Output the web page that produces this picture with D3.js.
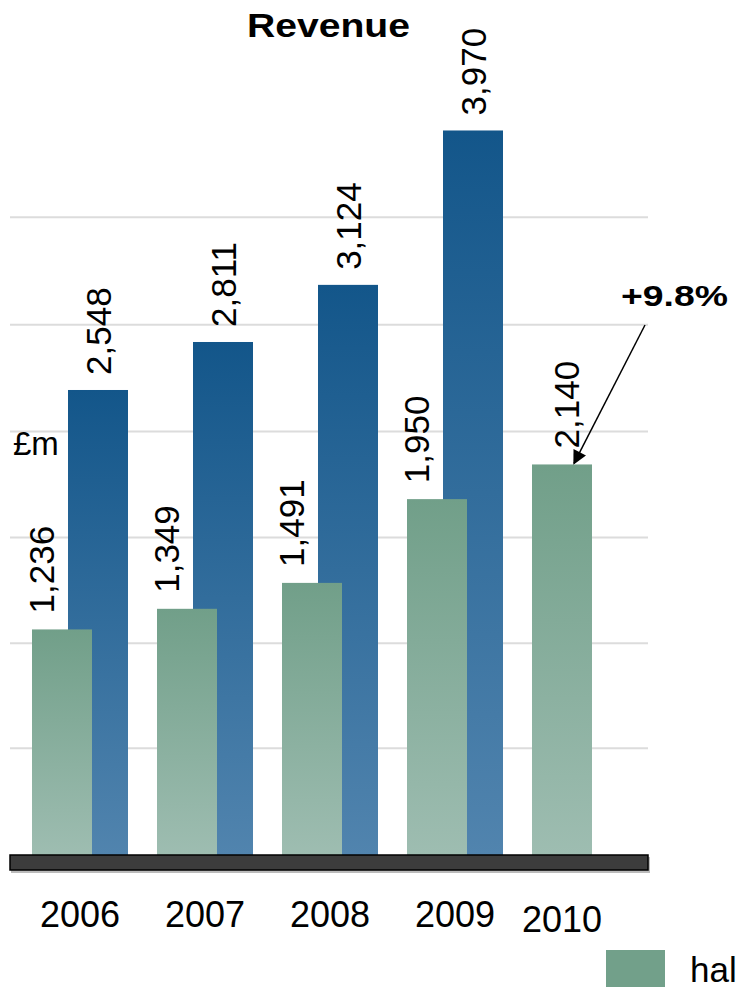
<!DOCTYPE html>
<html>
<head>
<meta charset="utf-8">
<script src="https://cdn.jsdelivr.net/npm/d3@7"></script>
<style>
  body { margin: 0; background: #fff; overflow: hidden; }
  svg { display: block; font-family: 'Liberation Sans', Arial, sans-serif; }
</style>
</head>
<body>
<svg id="chart" width="736" height="987"></svg>
<script>
const years = ['2006', '2007', '2008', '2009', '2010']
const halfYear = [1236, 1349, 1491, 1950, 2140]
const fullYear = [2548, 2811, 3124, 3970, null]
const gridValues = [585, 1160, 1740, 2320, 2905, 3495]
const growthLabel = '+9.8%'

const svg = d3.select('#chart')
const base = 855

const x = d3.scaleBand()
  .domain(years)
  .range([32, 632])
  .paddingInner(0.2)
  .paddingOuter(0)

const y = d3.scaleLinear()
  .domain([0, 4000])
  .range([base, 125])

const barW = x.bandwidth() * 0.6
const blueOffset = x.bandwidth() * 0.36
const fmt = d3.format(',')

const defs = svg.append('defs')
const blueGrad = defs.append('linearGradient')
  .attr('id', 'blueGrad').attr('x1', 0).attr('y1', 0).attr('x2', 0).attr('y2', 1)
blueGrad.append('stop').attr('offset', '0%').attr('stop-color', '#13568a')
blueGrad.append('stop').attr('offset', '100%').attr('stop-color', '#5184ae')
const greenGrad = defs.append('linearGradient')
  .attr('id', 'greenGrad').attr('x1', 0).attr('y1', 0).attr('x2', 0).attr('y2', 1)
greenGrad.append('stop').attr('offset', '0%').attr('stop-color', '#719f89')
greenGrad.append('stop').attr('offset', '100%').attr('stop-color', '#9ebdb1')
defs.append('marker')
  .attr('id', 'arrow')
  .attr('viewBox', '0 0 10 10')
  .attr('refX', 9).attr('refY', 5)
  .attr('markerWidth', 16).attr('markerHeight', 14)
  .attr('markerUnits', 'userSpaceOnUse')
  .attr('orient', 'auto')
  .append('path')
    .attr('d', 'M0,0 L10,5 L0,10 z')
    .attr('fill', '#000')

// gridlines
svg.append('g')
  .selectAll('line')
  .data(gridValues)
  .join('line')
    .attr('x1', 10).attr('x2', 648)
    .attr('y1', d => y(d)).attr('y2', d => y(d))
    .attr('stroke', '#dcdcdc')
    .attr('stroke-width', 2)

// full year bars (behind)
const fullData = years.map((yr, i) => ({ year: yr, v: fullYear[i] })).filter(d => d.v !== null)
svg.append('g')
  .selectAll('rect')
  .data(fullData)
  .join('rect')
    .attr('x', d => x(d.year) + blueOffset)
    .attr('y', d => y(d.v))
    .attr('width', barW)
    .attr('height', d => base - y(d.v))
    .attr('fill', 'url(#blueGrad)')

// half year bars (front)
const halfData = years.map((yr, i) => ({ year: yr, v: halfYear[i], paired: fullYear[i] !== null }))
svg.append('g')
  .selectAll('rect')
  .data(halfData)
  .join('rect')
    .attr('x', d => x(d.year))
    .attr('y', d => y(d.v))
    .attr('width', barW)
    .attr('height', d => base - y(d.v))
    .attr('fill', 'url(#greenGrad)')

// value labels, rotated; half-year labels shift left when a full-year bar sits beside them
const addLabels = (data, cx, gap) => {
  svg.append('g')
    .selectAll('text')
    .data(data)
    .join('text')
      .attr('transform', d => `translate(${cx(d)},${y(d.v) - gap}) rotate(-90)`)
      .attr('dy', '0.36em')
      .attr('font-size', 35)
      .attr('fill', '#000')
      .text(d => fmt(d.v))
}
addLabels(fullData, d => x(d.year) + blueOffset + barW / 2, 15)
addLabels(halfData, d => x(d.year) + (d.paired ? 9 : barW / 2 + 4), 16)

// baseline slab
svg.append('rect')
  .attr('x', 11).attr('y', base + 2)
  .attr('width', 639).attr('height', 16)
  .attr('fill', '#bbb')
svg.append('rect')
  .attr('x', 10).attr('y', base)
  .attr('width', 638).attr('height', 15)
  .attr('fill', '#3c3c3c')
  .attr('stroke', '#000')
  .attr('stroke-width', 1.5)

// year labels, centred under each group
svg.append('g')
  .selectAll('text')
  .data(halfData)
  .join('text')
    .attr('x', d => x(d.year) + (d.paired ? (blueOffset + barW) / 2 : barW / 2))
    .attr('y', (d, i) => i === years.length - 1 ? 932 : 927)
    .attr('text-anchor', 'middle')
    .attr('font-size', 36)
    .text(d => d.year)

// title
svg.append('text')
  .attr('x', 247).attr('y', 37)
  .attr('font-size', 34)
  .attr('font-weight', 'bold')
  .attr('textLength', 163)
  .attr('lengthAdjust', 'spacingAndGlyphs')
  .text('Revenue')

// unit
svg.append('text')
  .attr('x', 13).attr('y', 455)
  .attr('font-size', 33)
  .text('£m')

// growth annotation
const last = halfData[halfData.length - 1]
svg.append('text')
  .attr('x', 621).attr('y', 306)
  .attr('font-size', 30)
  .attr('font-weight', 'bold')
  .attr('textLength', 107)
  .attr('lengthAdjust', 'spacingAndGlyphs')
  .text(growthLabel)
svg.append('line')
  .attr('x1', 645).attr('y1', 325)
  .attr('x2', x(last.year) + barW * 0.7).attr('y2', y(last.v) - 1)
  .attr('stroke', '#000')
  .attr('stroke-width', 1.5)
  .attr('marker-end', 'url(#arrow)')

// legend
svg.append('rect')
  .attr('x', 606).attr('y', 950)
  .attr('width', 59).attr('height', 40)
  .attr('fill', '#72a08a')
svg.append('text')
  .attr('x', 690).attr('y', 982)
  .attr('font-size', 35)
  .text('half year')
</script>
</body>
</html>
